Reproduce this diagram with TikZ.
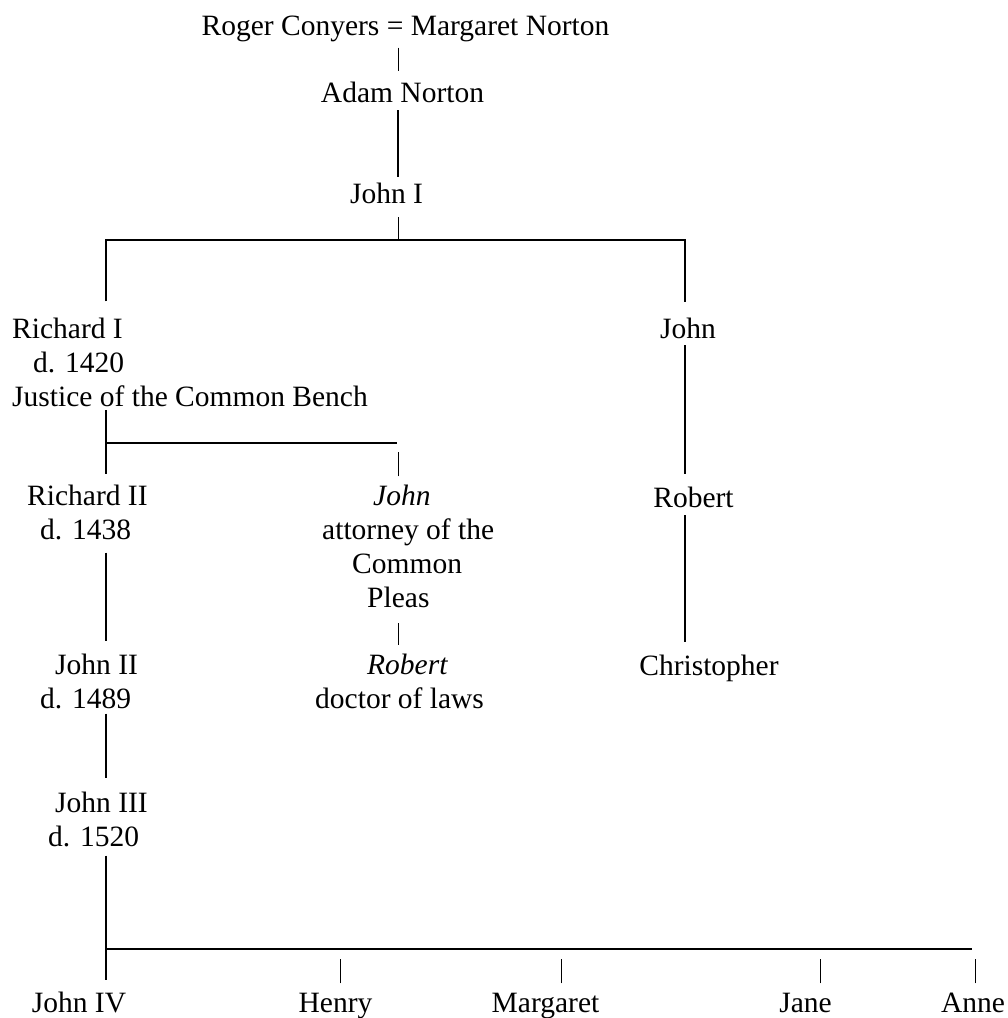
\documentclass[tikz,border=0pt]{standalone}
\usepackage{fontspec}
\setmainfont{Liberation Serif}
\usepackage{tikz}
\usetikzlibrary{positioning}
\tikzstyle{person} = [inner sep=0pt, anchor=base, font=\fontsize{29.5}{34}\selectfont]
\tikzstyle{lineage} = [person, anchor=base west, align=left]
\tikzstyle{famline} = [line width=2pt, black]
\tikzstyle{thinline} = [line width=1pt, black]

\begin{document}
\begin{tikzpicture}[x=1pt, y=-1pt]
\useasboundingbox (0,0) rectangle (1008,1018);

% Founders and first generations
\node (roger) [person] at (405.5,35) {Roger Conyers = Margaret Norton};
\node (adam) [person] at (402.5,102) {Adam Norton};
\node (johnI) [person] at (386.5,203) {John I};

% Sons of John I (multi-line nodes sit on their last line)
\node (richardI) [lineage] at (12,406) {Richard I\\\hspace*{21pt}d. 1420\\Justice of the Common Bench};
\node (johnB) [person] at (688,338) {John};

% Next generation
\node (richardII) [lineage] at (27,539) {Richard II\\\hspace*{13pt}d. 1438};
\node (johnA) [lineage] at (322,607) {\hspace*{51pt}\textit{John}\\attorney of the\\\hspace*{30pt}Common\\\hspace*{45pt}Pleas};
\node (robertB) [person] at (693.5,507) {Robert};

\node (johnII) [lineage] at (40,708) {\hspace*{15pt}John II\\d. 1489};
\node (robertA) [lineage] at (315,708) {\hspace*{52pt}\textit{Robert}\\doctor of laws};
\node (christopher) [person] at (709,675) {Christopher};

\node (johnIII) [lineage] at (48,846) {\hspace*{7pt}John III\\d. 1520};

% Children of John III
\node (johnIV) [person] at (79,1012) {John IV};
\node (henry) [person] at (335.5,1012) {Henry};
\node (margaret) [person] at (545.5,1012) {Margaret};
\node (jane) [person] at (805.5,1012) {Jane};
\node (anne) [person] at (973,1012) {Anne};

% Bars
\coordinate (axis) at (398,0);
\coordinate (bar1l) at (106,240);
\coordinate (bar1r) at (685,240);
\coordinate (bar2l) at (106,443);
\coordinate (bar2r) at (397,443);
\coordinate (bar3l) at (106,949);
\coordinate (bar3r) at (972,949);

% Descent lines
\draw[thinline, shorten <=6pt, shorten >=10pt] (roger.south -| axis) -- (adam.north -| axis);
\draw[famline, shorten <=8pt, shorten >=5pt] (adam.south -| axis) -- (johnI.north -| axis);
\draw[thinline, shorten <=14pt] (johnI.south -| axis) -- (bar1l -| axis);
\draw[famline, shorten <=16pt, shorten >=15pt] (richardI.north -| bar1l) -- (bar1l) -- (bar1r) -- (johnB.north -| bar1r);

\draw[famline, shorten <=4pt, shorten >=10pt] (richardI.south -| bar1l) -- (richardII.north -| bar1l);
\draw[famline] (bar2l) -- (bar2r);
\draw[thinline, shorten <=8pt] (johnA.north -| axis) -- ++(0,-32);

\draw[famline, shorten <=13pt, shorten >=12pt] (richardII.south -| bar1l) -- (johnII.north -| bar1l);
\draw[thinline, shorten <=16pt, shorten >=8pt] (johnA.south -| axis) -- (robertA.north -| axis);
\draw[famline, shorten <=5pt, shorten >=13pt] (johnII.south -| bar1l) -- (johnIII.north -| bar1l);

\draw[famline, shorten <=7pt, shorten >=12pt] (johnB.south -| bar1r) -- (robertB.north -| bar1r);
\draw[famline, shorten <=8pt, shorten >=12pt] (robertB.south -| bar1r) -- (christopher.north -| bar1r);

% Children of John III
\draw[famline, shorten <=9pt, shorten >=11pt] (johnIII.south -| bar1l) -- (johnIV.north -| bar1l);
\draw[famline] (bar3l) -- (bar3r);
\draw[thinline, shorten <=9pt] ([xshift=4.5pt]henry.north) -- ++(0,-33);
\draw[thinline, shorten <=9pt] ([xshift=15.5pt]margaret.north) -- ++(0,-33);
\draw[thinline, shorten <=9pt] ([xshift=14.5pt]jane.north) -- ++(0,-33);
\draw[thinline, shorten <=9pt] ([xshift=2pt]anne.north) -- ++(0,-33);
\end{tikzpicture}
\end{document}
